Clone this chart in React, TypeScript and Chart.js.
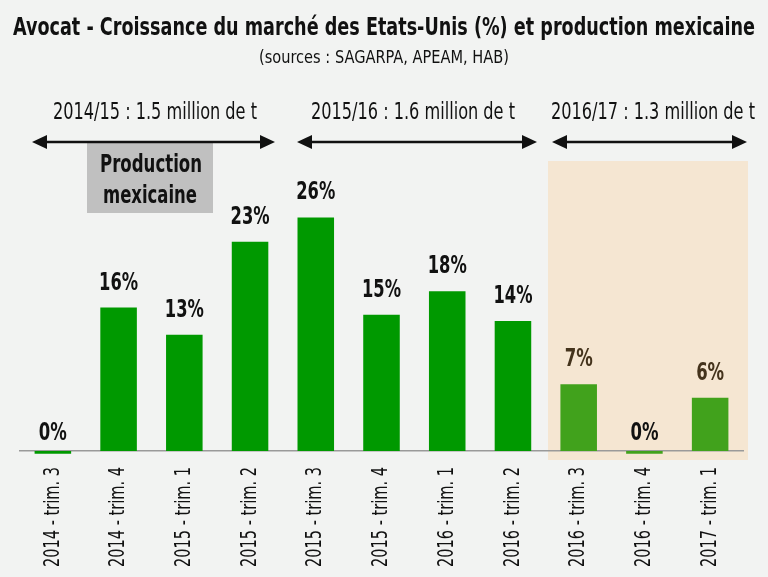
import React, { useEffect, useRef } from "react";
import { Chart, registerables } from "chart.js";

Chart.register(...registerables);

// ---- Data ----
const categories = [
  "2014 - trim. 3",
  "2014 - trim. 4",
  "2015 - trim. 1",
  "2015 - trim. 2",
  "2015 - trim. 3",
  "2015 - trim. 4",
  "2016 - trim. 1",
  "2016 - trim. 2",
  "2016 - trim. 3",
  "2016 - trim. 4",
  "2017 - trim. 1",
];
const growthPct = [-0.3, 15.9, 12.9, 23.2, 25.9, 15.1, 17.7, 14.4, 7.4, -0.3, 5.9];
const highlightedFrom = 8; // first category of the 2016/17 campaign
const periodLabels = [
  "2014/15 : 1.5 million de t",
  "2015/16 : 1.6 million de t",
  "2016/17 : 1.3 million de t",
];
const titleText = "Avocat - Croissance du marché des Etats-Unis (%) et production mexicaine";
const subtitleText = "(sources : SAGARPA, APEAM, HAB)";
const boxLines = ["Production", "mexicaine"];

// ---- Styles ----
const FONT = "'Liberation Sans Narrow', 'DejaVu Sans Condensed', 'Roboto Condensed', 'Liberation Sans', sans-serif";
const BG = "#f2f3f2";
const GREEN = "#009900";
const GREEN_LIGHT = "#41a21c";
const BEIGE = "#f5e6d2";

const arrowLayout = [
  { x1: 32, x2: 275, tx: 155 },
  { x1: 297, x2: 537, tx: 413 },
  { x1: 552, x2: 747, tx: 653 },
];

function drawArrow(ctx: CanvasRenderingContext2D, x1: number, x2: number, y: number) {
  const hl = 15;
  const hh = 7;
  ctx.save();
  ctx.strokeStyle = "#111";
  ctx.fillStyle = "#111";
  ctx.lineWidth = 2.5;
  ctx.beginPath();
  ctx.moveTo(x1 + hl - 2, y);
  ctx.lineTo(x2 - hl + 2, y);
  ctx.stroke();
  ctx.beginPath();
  ctx.moveTo(x1, y);
  ctx.lineTo(x1 + hl, y - hh);
  ctx.lineTo(x1 + hl, y + hh);
  ctx.closePath();
  ctx.fill();
  ctx.beginPath();
  ctx.moveTo(x2, y);
  ctx.lineTo(x2 - hl, y - hh);
  ctx.lineTo(x2 - hl, y + hh);
  ctx.closePath();
  ctx.fill();
  ctx.restore();
}

const decorPlugin = {
  id: "decor",
  beforeDraw(chart: any) {
    const ctx: CanvasRenderingContext2D = chart.ctx;
    ctx.save();
    ctx.fillStyle = BG;
    ctx.fillRect(0, 0, chart.width, chart.height);
    // highlighted campaign background
    ctx.fillStyle = BEIGE;
    ctx.fillRect(548, 161, 200, 299);
    ctx.restore();
  },
  afterDraw(chart: any) {
    const ctx: CanvasRenderingContext2D = chart.ctx;
    ctx.save();
    ctx.textAlign = "center";
    ctx.textBaseline = "alphabetic";
    ctx.fillStyle = "#111";
    ctx.font = `bold 25px ${FONT}`;
    ctx.fillText(titleText, 384, 35, 742);
    ctx.font = `18px ${FONT}`;
    ctx.fillText(subtitleText, 384, 63, 250);

    // gray box
    ctx.fillStyle = "#c0c0c0";
    ctx.fillRect(87, 142, 126, 71);
    ctx.fillStyle = "#111";
    ctx.font = `bold 25px ${FONT}`;
    ctx.fillText(boxLines[0], 151, 172, 102);
    ctx.fillText(boxLines[1], 150, 203, 94);

    // campaign labels and arrows
    ctx.font = `23px ${FONT}`;
    periodLabels.forEach((t, i) => {
      const a = arrowLayout[i];
      ctx.fillStyle = "#111";
      ctx.fillText(t, a.tx, 119, 204);
      drawArrow(ctx, a.x1, a.x2, 142);
    });

    // category labels (rotated)
    const xScale = chart.scales.x;
    ctx.font = `22px ${FONT}`;
    ctx.fillStyle = "#111";
    ctx.textAlign = "right";
    ctx.textBaseline = "middle";
    categories.forEach((c, i) => {
      const x = xScale.getPixelForValue(i);
      ctx.save();
      ctx.translate(x, 467);
      ctx.rotate(-Math.PI / 2);
      ctx.fillText(c, 0, 0, 100);
      ctx.restore();
    });
    ctx.restore();
  },
  afterDatasetsDraw(chart: any) {
    const ctx: CanvasRenderingContext2D = chart.ctx;
    const meta = chart.getDatasetMeta(0);
    ctx.save();
    ctx.textAlign = "center";
    ctx.textBaseline = "alphabetic";
    ctx.font = `bold 25px ${FONT}`;
    meta.data.forEach((bar: any, i: number) => {
      const v = growthPct[i];
      const top = Math.min(bar.y, bar.base);
      const r = Math.round(v);
      const label = `${r === 0 ? 0 : r}%`;
      ctx.fillStyle = i >= highlightedFrom && v > 1 ? "#44331c" : "#111";
      const y = v > 1 ? top - 18 : bar.base - 11;
      ctx.fillText(label, bar.x, y, label.length === 2 ? 28 : 39);
    });
    ctx.restore();
  },
};

export default function App() {
  const ref = useRef<HTMLCanvasElement | null>(null);
  useEffect(() => {
    document.body.style.margin = "0";
    const canvas = ref.current;
    if (!canvas) return;
    const chart = new Chart(canvas, {
      type: "bar",
      data: {
        labels: categories,
        datasets: [
          {
            data: growthPct,
            backgroundColor: growthPct.map((_, i) => (i >= highlightedFrom ? GREEN_LIGHT : GREEN)),
            borderWidth: 0,
            barPercentage: 0.556,
            categoryPercentage: 1,
            clip: false as any,
          },
        ],
      },
      options: {
        responsive: false,
        animation: false,
        devicePixelRatio: 1,
        layout: { padding: { left: 20, right: 25, top: 0, bottom: 0 } },
        plugins: {
          legend: { display: false },
          title: { display: false },
          tooltip: { enabled: false },
        },
        scales: {
          x: {
            grid: { display: false, drawTicks: false },
            border: { display: true, color: "#9a9a9a", width: 1.5 },
            ticks: { display: false },
            afterFit: (scale: any) => {
              scale.height = 126;
            },
          },
          y: {
            display: false,
            min: 0,
            max: 50,
          },
        },
      },
      plugins: [decorPlugin],
    });
    return () => chart.destroy();
  }, []);
  return (
    <div style={{ width: 768, height: 577 }}>
      <canvas ref={ref} width={768} height={577} style={{ display: "block" }} />
    </div>
  );
}
